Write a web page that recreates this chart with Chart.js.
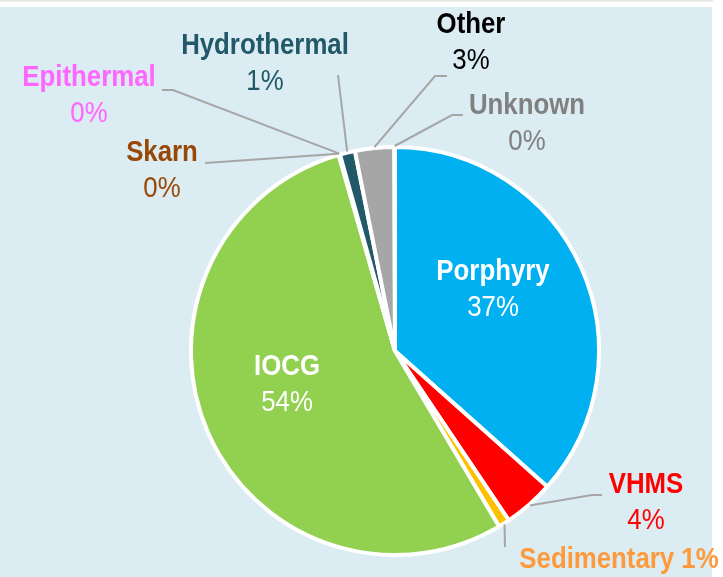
<!DOCTYPE html>
<html>
<head>
<meta charset="utf-8">
<script src="https://cdn.jsdelivr.net/npm/chart.js@4.4.1/dist/chart.umd.min.js"></script>
<style>
html,body{margin:0;padding:0;background:#fff;}
#wrap{width:723px;height:577px;position:relative;}
</style>
</head>
<body>
<div id="wrap"><canvas id="c" width="723" height="577"></canvas></div>
<script>
// ---- data ----
const categories = ['Porphyry','VHMS','Sedimentary','IOCG','Skarn','Epithermal','Hydrothermal','Other','Unknown'];
const shares = [36.6, 4.0, 0.9, 54.1, 0.05, 0.05, 1.2, 3.1, 0.05];

// ---- styles ----
const sliceColors = ['#00b0f0','#ff0000','#ffc000','#92d050','#984806','#ff66ff','#215968','#a6a6a6','#808080'];
const labelColors = ['#ffffff','#ff0000','#ff9a3c','#ffffff','#984806','#ff66ff','#215968','#000000','#808080'];
const FONT = '"Liberation Sans",Arial,sans-serif';
const FS = 30;
const SCALE_X = 0.86;
const LINE_GAP = 36;

// label layout: text centre (x,y of first line) + leader elbow points (canvas px)
const labelLayout = {
  'Porphyry':    {x:493, y:272, inside:true},
  'IOCG':        {x:287, y:367, inside:true},
  'VHMS':        {x:646, y:485, leader:[[592,495],[602,495]]},
  'Sedimentary': {x:619, y:560, single:true, leader:[[505,547]]},
  'Skarn':       {x:162, y:153, leader:[[205,163]]},
  'Epithermal':  {x:89,  y:78,  leader:[[173,90],[162,90]]},
  'Hydrothermal':{x:265, y:46,  leader:[[338,75]]},
  'Other':       {x:471, y:25,  leader:[[435,76],[447,76]]},
  'Unknown':     {x:527, y:106, leader:[[452,115],[463,115]]}
};

const total = shares.reduce((a,b)=>a+b,0);
const pct = v => Math.round(v/total*100) + '%';

const bgPlugin = {
  id:'bg',
  beforeDraw(chart){
    const ctx = chart.ctx;
    ctx.save();
    ctx.fillStyle = '#ffffff';
    ctx.fillRect(0,0,chart.width,chart.height);
    ctx.fillStyle = '#e6e6e6';
    ctx.fillRect(0,0,713,1.5);
    ctx.fillStyle = '#dbecf2';
    ctx.fillRect(0,7,712,chart.height-7);
    ctx.restore();
  }
};

function narrowText(ctx, text, x, y){
  ctx.save();
  ctx.translate(x, y);
  ctx.scale(SCALE_X, 1);
  ctx.fillText(text, 0, 0);
  ctx.restore();
}

const labelPlugin = {
  id:'labels',
  afterDraw(chart){
    const ctx = chart.ctx;
    const meta = chart.getDatasetMeta(0);
    ctx.save();
    // leader lines
    ctx.strokeStyle = '#a6a6a6';
    ctx.lineWidth = 2;
    categories.forEach((name,i)=>{
      const L = labelLayout[name];
      if (!L.leader) return;
      const arc = meta.data[i];
      const p = arc.getProps(['x','y','startAngle','endAngle','outerRadius'], true);
      const mid = (p.startAngle + p.endAngle)/2;
      const r = p.outerRadius + 1;
      ctx.beginPath();
      ctx.moveTo(p.x + r*Math.cos(mid), p.y + r*Math.sin(mid));
      L.leader.forEach(pt=>ctx.lineTo(pt[0],pt[1]));
      ctx.stroke();
    });
    // text
    ctx.textAlign = 'center';
    ctx.textBaseline = 'middle';
    categories.forEach((name,i)=>{
      const L = labelLayout[name];
      ctx.fillStyle = labelColors[i];
      if (L.single){
        ctx.font = 'bold ' + FS + 'px ' + FONT;
        narrowText(ctx, name + ' ' + pct(shares[i]), L.x, L.y);
      } else {
        ctx.font = 'bold ' + FS + 'px ' + FONT;
        narrowText(ctx, name, L.x, L.y);
        ctx.font = FS + 'px ' + FONT;
        narrowText(ctx, pct(shares[i]), L.x, L.y + LINE_GAP);
      }
    });
    ctx.restore();
  }
};

new Chart(document.getElementById('c'), {
  type:'pie',
  data:{
    labels: categories,
    datasets:[{
      data: shares,
      backgroundColor: sliceColors,
      borderColor:'#ffffff',
      borderWidth:4
    }]
  },
  options:{
    responsive:false,
    animation:false,
    devicePixelRatio:1,
    layout:{padding:{left:189,right:122,top:145,bottom:20}},
    plugins:{legend:{display:false},tooltip:{enabled:false}}
  },
  plugins:[bgPlugin,labelPlugin]
});
</script>
</body>
</html>
